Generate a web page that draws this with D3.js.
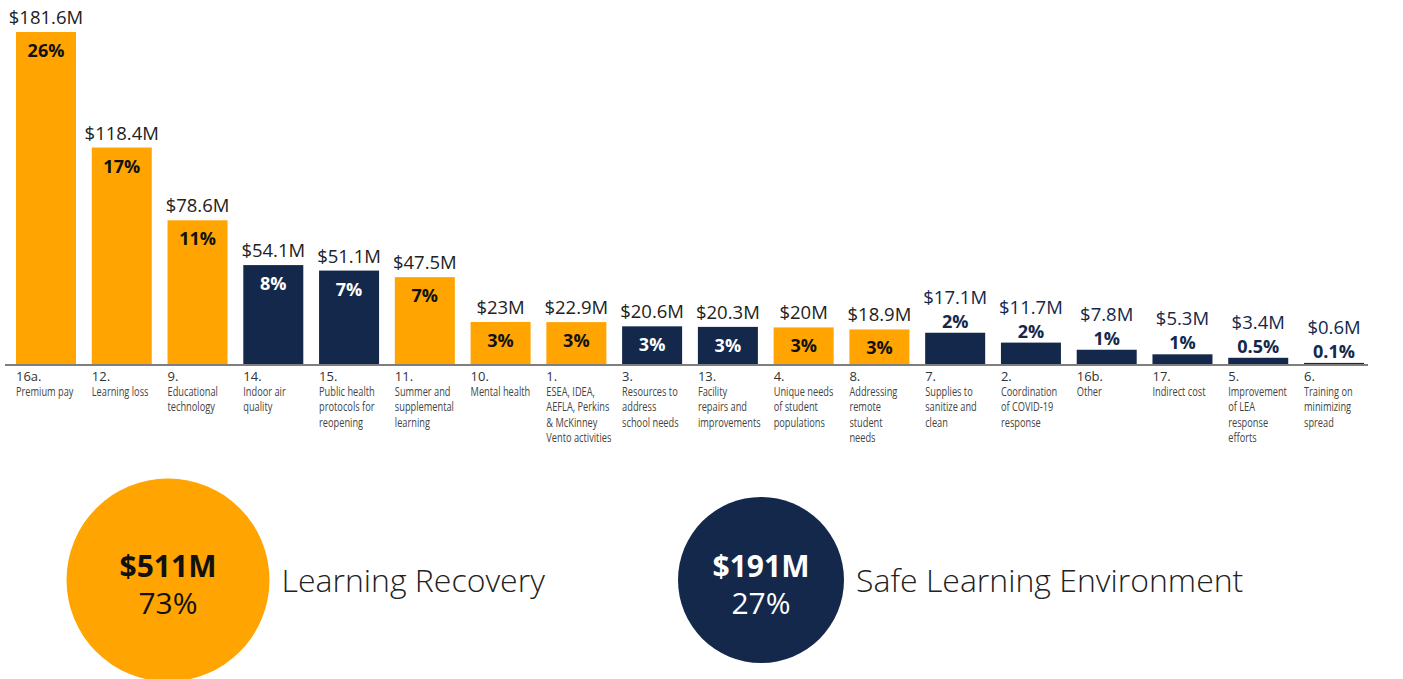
<!DOCTYPE html>
<html><head><meta charset="utf-8">
<script src="https://cdn.jsdelivr.net/npm/d3@7"></script>
<style>
html,body{margin:0;padding:0;background:#fff;}
svg{display:block;font-family:"Open Sans",sans-serif;}
</style></head>
<body>
<svg id="chart" width="1403" height="679"></svg>
<script>
// ---- data ----
const codes = ["16a.","12.","9.","14.","15.","11.","10.","1.","3.","13.","4.","8.","7.","2.","16b.","17.","5.","6."];
const descriptions = [
  ["Premium pay"],["Learning loss"],["Educational","technology"],["Indoor air","quality"],
  ["Public health","protocols for","reopening"],["Summer and","supplemental","learning"],["Mental health"],
  ["ESEA, IDEA,","AEFLA, Perkins","& McKinney","Vento activities"],["Resources to","address","school needs"],
  ["Facility","repairs and","improvements"],["Unique needs","of student","populations"],
  ["Addressing","remote","student","needs"],["Supplies to","sanitize and","clean"],
  ["Coordination","of COVID-19","response"],["Other"],["Indirect cost"],
  ["Improvement","of LEA","response","efforts"],["Training on","minimizing","spread"]
];
const values = [181.6,118.4,78.6,54.1,51.1,47.5,23,22.9,20.6,20.3,20,18.9,17.1,11.7,7.8,5.3,3.4,0.6];
const valueLabels = ["$181.6M","$118.4M","$78.6M","$54.1M","$51.1M","$47.5M","$23M","$22.9M","$20.6M","$20.3M","$20M","$18.9M","$17.1M","$11.7M","$7.8M","$5.3M","$3.4M","$0.6M"];
const percents = ["26%","17%","11%","8%","7%","7%","3%","3%","3%","3%","3%","3%","2%","2%","1%","1%","0.5%","0.1%"];
const groups = ["LR","LR","LR","SLE","SLE","LR","LR","LR","SLE","SLE","LR","LR","SLE","SLE","SLE","SLE","SLE","SLE"];

const summaryKeys = ["LR","SLE"];
const summaryNames = ["Learning Recovery","Safe Learning Environment"];
const summaryTotals = [511,191];
const summaryTotalLabels = ["$511M","$191M"];
const summaryShares = ["73%","27%"];

// ---- styling ----
const colors = {LR:"#FFA400", SLE:"#14284B"};
const svg = d3.select("#chart");

const x = d3.scaleBand().domain(d3.range(values.length)).range([16,1364]).paddingInner(0.208).paddingOuter(0);
const y = d3.scaleLinear().domain([0,181.6]).range([364,32]);
const insideThreshold = 18;

// bars
svg.append("g").selectAll("rect").data(values).join("rect")
  .attr("x",(d,i)=>x(i)).attr("width",x.bandwidth())
  .attr("y",d=>y(d)).attr("height",d=>y(0)-y(d))
  .attr("fill",(d,i)=>colors[groups[i]]);

// baseline
svg.append("line").attr("x1",5).attr("x2",1368).attr("y1",y(0)+1).attr("y2",y(0)+1)
  .attr("stroke","#555").attr("stroke-width",1.6);

// value labels
svg.append("g").selectAll("text").data(values).join("text")
  .attr("x",(d,i)=>x(i)+x.bandwidth()/2)
  .attr("y",d=> d>=insideThreshold ? y(d)-8 : y(d)-29)
  .attr("text-anchor","middle").attr("font-size",18.5)
  .attr("fill",d=> d>=insideThreshold ? "#222" : "#14284B")
  .text((d,i)=>valueLabels[i]);

// percent labels
svg.append("g").selectAll("text").data(values).join("text")
  .attr("x",(d,i)=>x(i)+x.bandwidth()/2)
  .attr("y",d=> d>=insideThreshold ? y(d)+25 : y(d)-5)
  .attr("text-anchor","middle").attr("font-size",18).attr("font-weight",700)
  .attr("fill",(d,i)=> d>=insideThreshold ? (groups[i]==="LR" ? "#111" : "#fff") : "#14284B")
  .text((d,i)=>percents[i]);

// category labels
const cat = svg.append("g").selectAll("g").data(values).join("g")
  .attr("transform",(d,i)=>`translate(${x(i)},0)`);
cat.append("text").attr("x",0).attr("y",381).attr("font-size",13).attr("fill","#333")
  .text((d,i)=>codes[i]);
cat.each(function(d,i){
  const g = d3.select(this).append("g").attr("transform","translate(0,396) scale(0.74,1)");
  g.selectAll("text").data(descriptions[i]).join("text")
    .attr("x",0).attr("y",(l,j)=>j*15.4)
    .attr("font-size",12.5).attr("fill","#444").text(l=>l);
});

// summary circles
const r = d3.scaleLinear().domain([191,511]).range([83,101.5]);
const cx = [168,761];
const cy = 580;
const sg = svg.append("g").selectAll("g").data(summaryKeys).join("g")
  .attr("transform",(k,i)=>`translate(${cx[i]},${cy})`);
sg.append("circle").attr("r",(k,i)=>r(summaryTotals[i])).attr("fill",k=>colors[k]);
sg.append("text").attr("text-anchor","middle").attr("y",-3).attr("font-size",30).attr("font-weight",700)
  .attr("fill",k=>k==="LR"?"#111":"#fff").text((k,i)=>summaryTotalLabels[i]);
sg.append("text").attr("text-anchor","middle").attr("y",34).attr("font-size",30)
  .attr("fill",k=>k==="LR"?"#111":"#fff").text((k,i)=>summaryShares[i]);
sg.append("text").attr("x",(k,i)=>r(summaryTotals[i])+12).attr("y",12).attr("font-size",32).attr("font-weight",300)
  .attr("fill","#222").text((k,i)=>summaryNames[i]);
</script>
</body></html>
